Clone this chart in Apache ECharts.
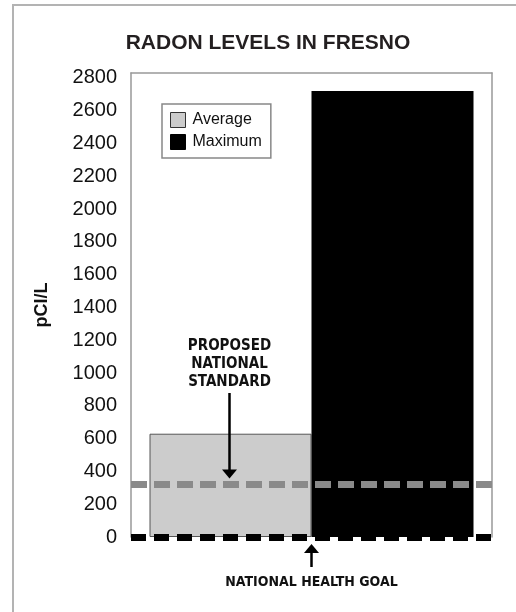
<!DOCTYPE html>
<html>
<head>
<meta charset="utf-8">
<script src="https://cdn.jsdelivr.net/npm/echarts@6/dist/echarts.min.js"></script>
<style>html,body{margin:0;padding:0;background:#fff}#c{width:516px;height:612px}</style>
</head>
<body>
<div id="c"></div>
<script>
const TITLE = 'RADON LEVELS IN FRESNO';
const categories = ['Fresno'];
const seriesNames = ['Average', 'Maximum'];
const averageValues = [630];
const maximumValues = [2720];
const proposedStandard = 320;
const healthGoal = 0;
const yMin = 0, yMax = 2830, yInterval = 200;
const yName = 'pCI/L';
const standardLabel = 'PROPOSED\nNATIONAL\nSTANDARD';
const goalLabel = 'NATIONAL HEALTH GOAL';

const BAR_W = 162;
const narrow = "'Liberation Sans Narrow','DejaVu Sans Condensed',sans-serif";
const chart = echarts.init(document.getElementById('c'), null, {renderer: 'canvas'});
const valueAxisBase = {
  type: 'value', min: yMin, max: yMax, interval: yInterval,
  splitLine: {show: false}, axisTick: {show: false},
  axisLine: {show: true, lineStyle: {color: '#999', width: 1.5}}
};
chart.setOption({
  animation: false,
  backgroundColor: '#fff',
  title: {
    text: TITLE, left: 263, top: 28, textAlign: 'center',
    textStyle: {fontFamily: 'Liberation Sans, Arial, sans-serif', fontWeight: 'bold', fontSize: 21, color: '#231f20'}
  },
  legend: {
    orient: 'vertical', left: 162, top: 104,
    padding: [8, 9, 8, 8], itemGap: 6, itemWidth: 15, itemHeight: 15,
    borderColor: '#888', borderWidth: 1.5, icon: 'rect',
    textStyle: {fontFamily: 'Liberation Sans, Arial, sans-serif', fontSize: 16, color: '#111', padding: [0,0,0,2]},
    data: [
      {name: seriesNames[0], itemStyle: {color: '#cccccc', borderColor: '#333', borderWidth: 1}},
      {name: seriesNames[1], itemStyle: {color: '#000', borderColor: '#000', borderWidth: 1}}
    ]
  },
  grid: {left: 131, right: 24, top: 73, bottom: 75, show: false},
  xAxis: {
    type: 'category', data: categories, position: 'top',
    axisLine: {show: true, onZero: false, lineStyle: {color: '#999', width: 1.5}},
    axisTick: {show: false}, axisLabel: {show: false}
  },
  yAxis: [
    Object.assign({}, valueAxisBase, {
      position: 'left', name: yName, nameLocation: 'middle', nameGap: 80, nameRotate: 90,
      nameTextStyle: {fontFamily: 'Liberation Sans, Arial, sans-serif', fontWeight: 'bold', fontSize: 18, color: '#111'},
      axisLabel: {show: true, showMaxLabel: false, margin: 14, fontFamily: 'Liberation Sans, Arial, sans-serif', fontSize: 20, color: '#111',
        formatter: v => String(v)}
    }),
    Object.assign({}, valueAxisBase, {position: 'right', axisLabel: {show: false}})
  ],
  series: [
    {
      name: seriesNames[0], type: 'bar', data: averageValues, barWidth: BAR_W, barGap: '0%',
      itemStyle: {color: '#cccccc', borderColor: '#555', borderWidth: 1},
      markLine: {
        silent: true, symbol: 'none', label: {show: false}, z: 10,
        lineStyle: {color: '#8a8a8a', width: 7, type: [16, 7]},
        data: [{yAxis: proposedStandard}]
      }
    },
    {
      name: seriesNames[1], type: 'bar', data: maximumValues, barWidth: BAR_W,
      itemStyle: {color: '#000'},
      markLine: {
        silent: true, symbol: 'none', label: {show: false}, z: 10,
        lineStyle: {color: '#000', width: 7, type: [15, 8]},
        data: [{yAxis: healthGoal}]
      }
    }
  ]
});

// annotations
const catX = chart.convertToPixel({xAxisIndex: 0}, categories[0]);
const avgX = catX - BAR_W / 2 - 1;
const stdY = chart.convertToPixel({yAxisIndex: 0}, proposedStandard);
const zeroY = chart.convertToPixel({yAxisIndex: 0}, healthGoal);
function arrow(x, yTail, yTip) {
  const dir = yTip > yTail ? 1 : -1;
  return [
    {type: 'line', z: 20, shape: {x1: x, y1: yTail, x2: x, y2: yTip - dir * 8}, style: {stroke: '#000', lineWidth: 2.5}},
    {type: 'polygon', z: 20, shape: {points: [[x - 7.5, yTip - dir * 9], [x + 7.5, yTip - dir * 9], [x, yTip]]}, style: {fill: '#000'}}
  ];
}
chart.setOption({
  graphic: [
    {type: 'rect', z: 0, shape: {x: 13, y: 5, width: 540, height: 640}, style: {fill: 'none', stroke: '#b3b3b3', lineWidth: 2}},
    {type: 'text', z: 20, x: avgX, y: 337, style: {text: standardLabel, textAlign: 'center', fill: '#111',
      font: 'bold 15px ' + narrow, lineHeight: 18}},
    ...arrow(avgX, 393, stdY - 6),
    ...arrow(catX, zeroY + 30, zeroY + 7),
    {type: 'text', z: 20, x: catX, y: 575, style: {text: goalLabel, textAlign: 'center', fill: '#111',
      font: 'bold 14px ' + narrow}}
  ]
});
</script>
</body>
</html>
